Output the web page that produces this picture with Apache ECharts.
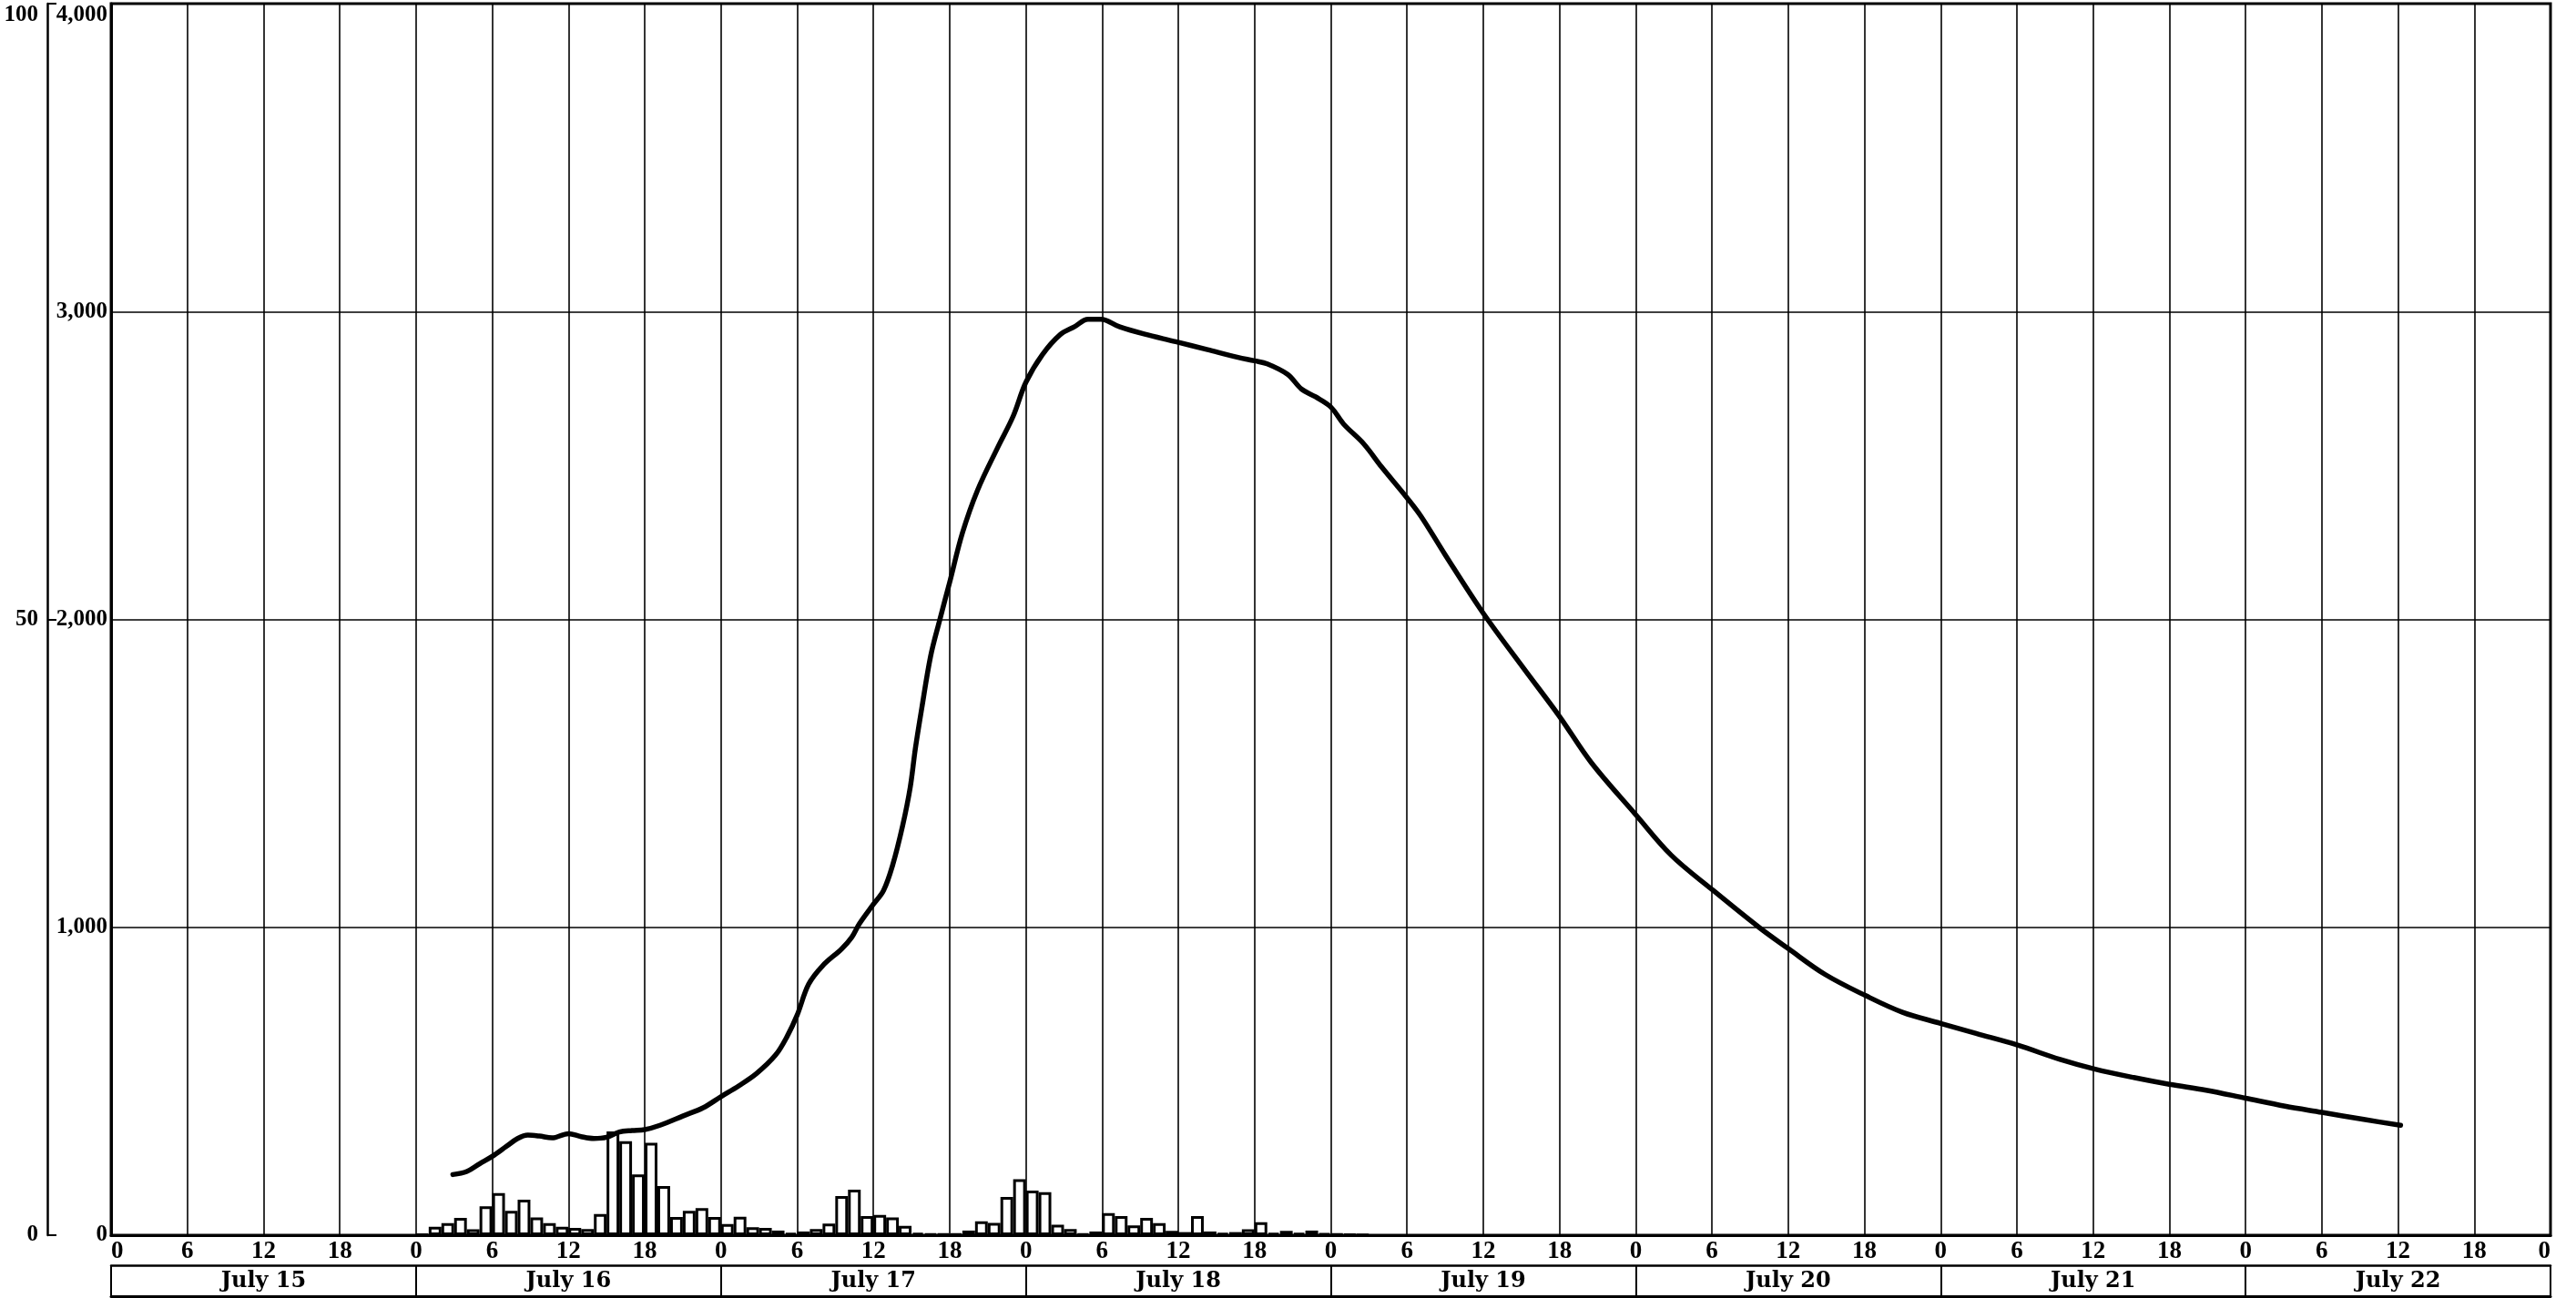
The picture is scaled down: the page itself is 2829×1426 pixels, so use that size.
<!DOCTYPE html>
<html>
<head>
<meta charset="utf-8">
<script src="https://cdn.jsdelivr.net/npm/echarts@6/dist/echarts.min.js"></script>
<style>
html,body{margin:0;padding:0;background:#fff;}
#chart{width:2829px;height:1426px;}
</style>
</head>
<body>
<div id="chart"></div>
<script>
// ---- data (hours counted from July 15, 0h) ----
const dayLabels = ['July 15','July 16','July 17','July 18','July 19','July 20','July 21','July 22'];
const hourTicks = [0, 6, 12, 18];
const flowTicks = [0, 1000, 2000, 3000, 4000];
const rainTicks = [0, 50, 100];

// discharge hydrograph: time (hours) and value
const flowHours = [26.9,28.0,29.0,30.0,31.1,32.0,32.8,33.7,34.7,36.0,37.0,38.0,39.0,40.0,41.0,42.0,43.2,45.0,46.6,48.0,49.4,50.8,52.3,53.2,54.0,54.9,56.0,57.5,58.3,58.9,60.0,60.8,61.5,62.3,62.9,63.3,63.8,64.5,65.2,66.0,67.0,68.2,69.8,71.0,72.0,73.3,74.7,75.8,76.9,77.9,79.4,81.3,83.8,86.3,88.7,90.0,91.0,92.6,93.7,94.8,96.0,97.0,98.6,100.0,101.9,103.1,105.0,108.0,111.2,114.0,116.5,120.0,122.8,126.0,129.7,132.0,134.9,138.1,141.0,144.0,146.8,150.0,153.4,156.1,159.2,162.0,164.9,168.0,171.1,174.0,177.3,180.2];
const flowValues = [197,207,232,256,288,314,325,322,316,330,320,314,318,335,340,343,357,387,414,450,485,525,585,645,715,815,875,930,968,1012,1075,1120,1200,1330,1455,1580,1710,1880,1995,2120,2280,2420,2560,2660,2770,2860,2925,2950,2975,2975,2950,2927,2902,2876,2851,2840,2830,2796,2748,2723,2690,2635,2570,2495,2400,2335,2210,2020,1840,1685,1535,1366,1234,1123,1000,931,847,778,724,688,655,618,571,540,512,490,471,445,419,399,376,357];

// hourly rainfall bars, first bar = July 16, 0h-1h
const rainStartHour = 24;
const rainValues = [
  3,27,39,56,19,94,137,79,115,58,39,27,24,20,69,337,305,197,300,160,59,79,88,59,
  36,60,26,24,15,8,12,20,38,127,148,62,66,58,30,8,4,4,5,15,45,40,124,182,
  145,140,34,20,5,12,72,62,32,56,39,14,10,62,12,7,10,19,42,7,14,7,15,6,
  4,3,1
];

// ---- layout ----
const GL = 122, GR = 28, GT = 4, GB = 69;
const W = 2829;
const hourPx = (W - GL - GR) / 192;

const flowData = flowHours.map((h, i) => [h, flowValues[i]]);
const rainData = rainValues.map((v, i) => [rainStartHour + i + 0.5, v]);

const serifD = 'DejaVu Serif';
const serifL = 'Liberation Serif';

const chart = echarts.init(document.getElementById('chart'), null, {renderer: 'canvas'});
chart.setOption({
  backgroundColor: '#ffffff',
  animation: false,
  grid: {left: GL, right: GR, top: GT, bottom: GB, show: true, borderColor: '#000', borderWidth: 3, backgroundColor: 'transparent'},
  xAxis: [
    {
      type: 'value', min: 0, max: 192, interval: 6,
      axisLine: {show: true, onZero: false, lineStyle: {color: '#000', width: 3}},
      axisTick: {show: false},
      splitLine: {show: true, lineStyle: {color: '#000', width: 1.6}},
      axisLabel: {
        color: '#000', fontFamily: serifL, fontSize: 27, fontWeight: 'bold', margin: 5,
        alignMinLabel: 'left', alignMaxLabel: 'right',
        formatter: v => String(hourTicks[(v % 24) / 6])
      }
    },
    {
      type: 'category', data: dayLabels, boundaryGap: true, position: 'bottom', offset: 33,
      axisLine: {show: true, onZero: false, lineStyle: {color: '#000', width: 2.5}},
      axisTick: {show: true, length: 34, interval: 0, lineStyle: {color: '#000', width: 2}},
      splitLine: {show: false},
      axisLabel: {color: '#000', fontFamily: serifD, fontSize: 24, fontWeight: 'bold', margin: 6, interval: 0}
    },
    {
      type: 'value', min: 0, max: 192, position: 'bottom', offset: 67,
      axisLine: {show: true, onZero: false, lineStyle: {color: '#000', width: 3}},
      axisTick: {show: false}, axisLabel: {show: false}, splitLine: {show: false}
    }
  ],
  yAxis: [
    {
      type: 'value', min: flowTicks[0], max: flowTicks[flowTicks.length - 1], interval: 1000,
      axisLine: {show: true, onZero: false, lineStyle: {color: '#000', width: 3}},
      axisTick: {show: false},
      splitLine: {show: true, lineStyle: {color: '#000', width: 1.6}},
      axisLabel: {
        color: '#000', fontFamily: serifL, fontSize: 25, fontWeight: 'bold', margin: 4,
        verticalAlignMaxLabel: 'top',
        formatter: v => v.toLocaleString('en-US')
      }
    },
    {
      type: 'value', min: rainTicks[0], max: rainTicks[rainTicks.length - 1], interval: 50,
      position: 'left', offset: GL - 52,
      axisLine: {show: true, onZero: false, lineStyle: {color: '#000', width: 2.5}},
      axisTick: {show: true, inside: true, length: 10, lineStyle: {color: '#000', width: 2}},
      splitLine: {show: false},
      axisLabel: {color: '#000', fontFamily: serifL, fontSize: 25, fontWeight: 'bold', margin: 10, verticalAlignMaxLabel: 'top'}
    }
  ],
  series: [
    {
      type: 'bar', name: 'Rainfall', xAxisIndex: 0, yAxisIndex: 0,
      data: rainData, barWidth: hourPx,
      itemStyle: {color: '#ffffff', borderColor: '#000', borderWidth: 3},
      z: 2
    },
    {
      type: 'line', name: 'Discharge', xAxisIndex: 0, yAxisIndex: 0,
      data: flowData, smooth: 0.35, symbol: 'none',
      lineStyle: {color: '#000', width: 5.5, cap: 'round', join: 'round'},
      z: 3
    }
  ]
});
</script>
</body>
</html>
